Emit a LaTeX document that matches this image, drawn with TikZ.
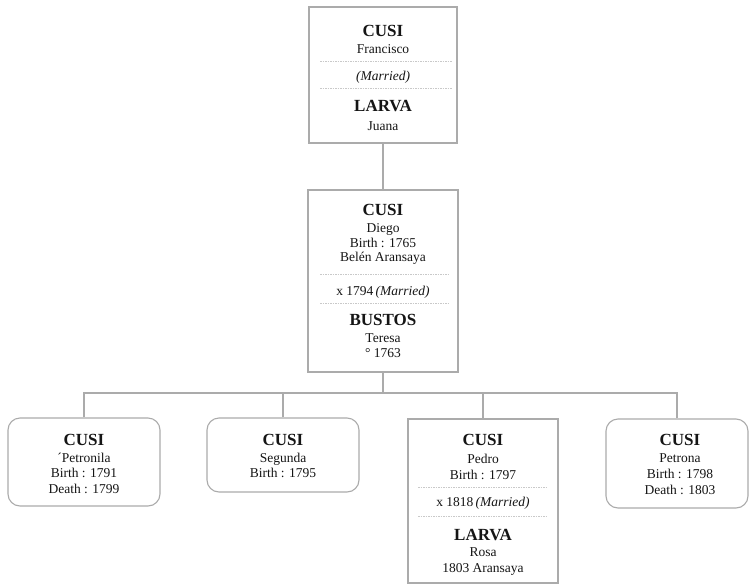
\documentclass[tikz,border=0pt]{standalone}
\usepackage{fontspec}
\setmainfont{Liberation Serif}
\usetikzlibrary{calc}
\definecolor{framegray}{HTML}{ABABAB}
\definecolor{sepgray}{HTML}{C9C9C9}
\definecolor{ink}{HTML}{151515}
\begin{document}
\begin{tikzpicture}[x=1pt,y=-1pt,
  famrect/.style={draw=framegray, line width=1.1pt, rectangle, inner sep=0pt, fill=white},
  kidrect/.style={famrect, rounded corners=12pt},
  surname/.style={anchor=base, inner sep=0pt, text=ink, font=\fontsize{17}{18}\selectfont\bfseries},
  given/.style={anchor=base, inner sep=0pt, text=ink, font=\fontsize{13.5}{14}\selectfont},
  sepline/.style={draw=sepgray, line width=0.8pt, dash pattern=on 1.5pt off 1pt},
  link/.style={draw=framegray, line width=1.1pt}]
\useasboundingbox (0,0) rectangle (750,584);
\fill[white] (0,0) rectangle (750,584);

% ---- boxes ----
\node[famrect, minimum width=148pt, minimum height=136pt] (top) at (383,75) {};
\node[famrect, minimum width=150pt, minimum height=182pt] (mid) at (383,281) {};
\node[kidrect, minimum width=152pt, minimum height=88pt] (k1) at (84,462) {};
\node[kidrect, minimum width=152pt, minimum height=74pt] (k2) at (283,455) {};
\node[famrect, minimum width=150pt, minimum height=164pt] (k3) at (483,501) {};
\node[kidrect, minimum width=142pt, minimum height=89pt] (k4) at (677,463.5) {};

% ---- connectors ----
\coordinate (bus) at (383,393);
\draw[link] (top.south) -- (mid.north);
\draw[link] (mid.south) -- (bus);
\draw[link] (k1.north) |- (bus);
\draw[link] (k2.north) |- (bus);
\draw[link] (k3.north) |- (bus);
\draw[link] (k4.north) |- (bus);

% ---- separators inside couple boxes ----
\draw[sepline] (320,61) -- (452,61);
\draw[sepline] (320,88) -- (452,88);
\draw[sepline] (320,274) -- (450,274);
\draw[sepline] (320,303) -- (450,303);
\draw[sepline] (418,487) -- (547,487);
\draw[sepline] (418,516) -- (547,516);

% ---- Francisco & Juana ----
\node[surname] (t1) at (383,36) {CUSI};
\node[given] (t2) at (383,53) {Francisco};
\node[given] (t3) at (383,80.5) {\itshape (Married)};
\node[surname] (t4) at (383,111.5) {LARVA};
\node[given] (t5) at (383,130) {Juana};

% ---- Diego & Teresa ----
\node[surname] (m1) at (383,215.5) {CUSI};
\node[given] (m2) at (383,232) {Diego};
\node[given] (m3) at (383,247.5) {Birth : 1765};
\node[given] (m4) at (383,261.5) {Belén Aransaya};
\node[given] (m5) at (383,295) {x 1794\,\textit{(Married)}};
\node[surname] (m6) at (383,325) {BUSTOS};
\node[given] (m7) at (383,342.5) {Teresa};
\node[given] (m8) at (383,357) {° 1763};

% ---- children ----
\node[surname] (a1) at (84,445) {CUSI};
\node[given] (a2) at (84,462) {´Petronila};
\node[given] (a3) at (84,477.5) {Birth : 1791};
\node[given] (a4) at (84,493) {Death : 1799};

\node[surname] (b1) at (283,445) {CUSI};
\node[given] (b2) at (283,462) {Segunda};
\node[given] (b3) at (283,477.5) {Birth : 1795};

\node[surname] (c1) at (483,445) {CUSI};
\node[given] (c2) at (483,463) {Pedro};
\node[given] (c3) at (483,479.5) {Birth : 1797};
\node[given] (c4) at (483,506) {x 1818\,\textit{(Married)}};
\node[surname] (c5) at (483,540) {LARVA};
\node[given] (c6) at (483,556.5) {Rosa};
\node[given] (c7) at (483,572) {1803 Aransaya};

\node[surname] (d1) at (680,445) {CUSI};
\node[given] (d2) at (680,462) {Petrona};
\node[given] (d3) at (680,478) {Birth : 1798};
\node[given] (d4) at (680,494) {Death : 1803};
\end{tikzpicture}
\end{document}
